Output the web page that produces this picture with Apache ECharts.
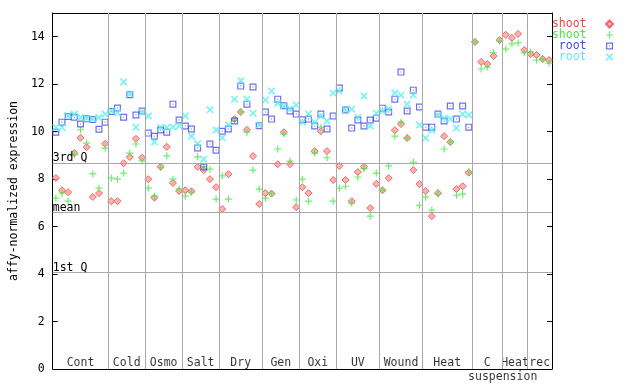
<!DOCTYPE html>
<html><head><meta charset="utf-8">
<script src="https://cdn.jsdelivr.net/npm/echarts@6/dist/echarts.min.js"></script>
<style>html,body{margin:0;padding:0;background:#fff}#c{width:640px;height:384px}</style>
</head><body><div id="c"></div>
<script>
// ---- data ----
const groupNames = ['Cont','Cold','Osmo','Salt','Dry','Gen','Oxi','UV','Wound','Heat','C','Heat','rec'];
const groupSizes = [9,6,6,6,7,6,6,7,7,8,5,4,4];
const subLabelText = 'suspension';   // second line under the "C" group
const subLabelGroup = 10;
const yTicks = [0,2,4,6,8,10,12,14];
const quartileNames = ['3rd Q','mean','1st Q'];
const quartileValues = [8.68, 6.61, 4.08];

const shootA = [8.05,7.53,7.45,9.10,9.74,9.35,7.25,7.41,9.49,7.07,7.07,8.67,8.93,9.70,8.90,8.00,7.22,8.52,9.36,7.84,7.50,7.53,7.49,8.52,8.38,8.00,7.66,6.74,8.21,10.53,10.83,10.08,8.97,6.95,7.41,7.39,8.63,9.98,8.63,6.82,7.66,7.41,9.18,10.02,9.18,7.96,8.56,7.96,7.07,8.30,8.52,6.78,7.80,7.53,8.04,10.06,10.32,9.73,8.38,7.79,7.50,6.44,7.41,9.81,9.56,7.58,7.70,8.27,13.78,12.94,12.85,13.19,13.86,14.08,13.95,14.12,13.44,13.27,13.23,13.06,13.02];
const shootB = [7.20,7.41,7.07,9.03,10.08,9.52,8.22,7.62,9.31,8.04,8.00,8.25,9.10,9.48,8.77,7.62,7.28,8.49,8.98,8.00,7.58,7.28,7.45,8.94,8.53,8.42,7.16,8.14,7.16,10.47,10.83,9.98,8.38,7.58,7.20,7.41,9.27,9.90,8.76,7.12,8.00,7.07,9.10,10.19,8.90,7.07,7.62,7.70,6.99,8.09,8.44,6.44,8.25,7.53,8.56,9.81,10.40,9.73,8.72,6.90,7.24,6.69,7.37,9.27,9.56,7.32,7.37,8.32,13.78,12.64,12.72,13.32,13.82,13.48,13.70,13.74,13.32,13.36,13.02,13.06,12.89];
const rootA = [9.98,10.40,10.64,10.61,10.32,10.54,10.51,10.10,10.40,10.85,11.00,10.61,11.56,10.70,10.87,9.94,9.81,10.07,9.98,11.16,10.49,10.24,10.11,9.31,8.51,9.48,9.22,10.02,10.11,10.45,11.92,11.16,11.88,10.25,10.83,10.53,11.37,11.09,10.87,10.74,10.50,10.53,10.24,10.74,10.11,10.66,11.84,10.91,10.15,10.49,10.24,10.49,10.57,10.99,10.83,11.37,12.51,10.87,11.75,11.04,10.19,10.19,10.74,10.45,11.08,10.53,11.08,10.19];
const rootB = [10.18,10.18,10.68,10.74,10.60,10.57,10.53,10.60,10.74,10.88,10.80,12.09,11.59,10.19,10.82,10.66,9.56,10.18,10.18,10.20,10.24,10.66,9.81,9.49,8.84,10.92,10.07,9.74,10.28,11.37,12.15,11.37,10.78,10.28,11.33,11.71,11.20,11.08,10.95,11.12,10.40,10.74,10.40,10.66,10.45,11.63,11.71,10.91,10.95,10.61,11.50,10.24,10.78,10.87,10.95,11.63,11.54,11.16,11.54,10.28,9.73,10.06,10.70,10.57,10.53,10.15,10.74,10.70];
const seriesNames = ['shoot','shoot','root','root'];

// ---- derived ----
const total = groupSizes.reduce((a,b)=>a+b,0);
const bounds = []; let acc = 0;
groupSizes.forEach(s=>{acc+=s; bounds.push(acc);});
const centers = groupSizes.map((s,i)=>bounds[i]-s/2);
const toPts = arr => arr.map((v,i)=>[i+0.5, v]);

const FONT = 'DejaVu Sans Mono';
const FS = 11.5;
const colors = ['#f04848','#48e848','#4848f0','#58f0f0'];
const sym = {
  diamond: 'path://M3.5,0L7,3.5L3.5,7L0,3.5Z',
  plus: 'path://M2.9,0H4.1V2.9H7V4.1H4.1V7H2.9V4.1H0V2.9H2.9Z',
  box: 'path://M0,0H7V7H0Z M1.2,1.2V5.8H5.8V1.2Z M3,3H4V4H3Z',
  cross: 'path://M0,0L1.2,0L3.5,2.3L5.8,0L7,0L7,1.2L4.7,3.5L7,5.8L7,7L5.8,7L3.5,4.7L1.2,7L0,7L0,5.8L2.3,3.5L0,1.2Z'
};
const uniqueNames = seriesNames.map((n,i)=> n + ' '.repeat(seriesNames.slice(0,i).filter(x=>x===n).length));

const chart = echarts.init(document.getElementById('c'), null, {renderer:'canvas'});
const option = {
  animation: false,
  backgroundColor: '#fff',
  textStyle: {fontFamily: FONT},
  grid: {left: 44, right: 88, top: 13, bottom: 15, show: false},
  legend: {
    orient: 'vertical', right: 26, top: 18, align: 'right',
    itemWidth: 36, itemHeight: 7, itemGap: -1, padding: 0,
    formatter: n => n.trim(),
    textStyle: {fontFamily: FONT, fontSize: FS, lineHeight: 11},
    data: uniqueNames.map((n,i)=>({name:n, textStyle:{color:colors[i]}}))
  },
  xAxis: [
    {type:'value', min:0, max: total, position:'bottom',
     axisLine:{show:true, onZero:false, lineStyle:{color:'#000', width:1}},
     axisTick:{show:false}, axisLabel:{show:false}, splitLine:{show:false}},
    {type:'value', min:0, max: total, position:'top',
     axisLine:{show:true, onZero:false, lineStyle:{color:'#000', width:1}},
     axisTick:{show:false}, axisLabel:{show:false}, splitLine:{show:false}}
  ],
  yAxis: [
    {type:'value', min:0, max:15, interval:2, position:'left',
     name:'affy-normalized expression', nameLocation:'middle', nameGap:27,
     nameTextStyle:{fontFamily:FONT, fontSize:FS, color:'#000'},
     axisLine:{show:true, onZero:false, lineStyle:{color:'#000', width:1}},
     axisTick:{show:true, inside:true, length:5, lineStyle:{color:'#000'}},
     axisLabel:{show:true, margin:8, fontFamily:FONT, fontSize:FS, color:'#000',
                formatter: v => yTicks.includes(v) ? String(v) : ''},
     splitLine:{show:false}},
    {type:'value', min:0, max:15, interval:2, position:'right',
     axisLine:{show:true, onZero:false, lineStyle:{color:'#000', width:1}},
     axisTick:{show:true, inside:true, length:5, lineStyle:{color:'#000'}},
     axisLabel:{show:false}, splitLine:{show:false}}
  ],
  series: [
    {type:'scatter', name:'guides', silent:true, data:[], z:1,
     markLine:{silent:true, symbol:'none', animation:false,
       lineStyle:{color:'#a8a8a8', width:1, type:'solid'},
       label:{show:false},
       data: bounds.slice(0,-1).map(b=>({xAxis:b}))}},
    {type:'scatter', name:'quart', silent:true, data:[], z:1,
     markLine:{silent:true, symbol:'none', animation:false,
       lineStyle:{color:'#a8a8a8', width:1, type:'solid'},
       label:{show:true, position:'insideStartTop', distance:[0,-1], formatter:'{b}',
              fontFamily:FONT, fontSize:FS, color:'#000', lineHeight:11},
       data: quartileValues.map((v,i)=>({yAxis:v, name:quartileNames[i]}))}},
    {type:'scatter', name: uniqueNames[0], data: toPts(shootA), symbol: sym.diamond, symbolSize:7,
     itemStyle:{color:'#ffa0a0', borderColor:colors[0], borderWidth:1}, z:3},
    {type:'scatter', name: uniqueNames[1], data: toPts(shootB), symbol: sym.plus, symbolSize:7,
     itemStyle:{color:colors[1]}, z:3},
    {type:'scatter', name: uniqueNames[2], data: toPts(rootA), symbol: sym.box, symbolSize:7,
     itemStyle:{color:colors[2]}, z:3},
    {type:'scatter', name: uniqueNames[3], data: toPts(rootB), symbol: sym.cross, symbolSize:7,
     itemStyle:{color:colors[3]}, z:3},
    {type:'scatter', name:'grouplabels', silent:true, symbolSize:0, z:4,
     data: groupNames.map((n,i)=>({value:[centers[i],0], name:n})),
     label:{show:true, position:'inside', offset:[0,-6], formatter:'{b}',
            fontFamily:FONT, fontSize:FS, color:'#000'}},
    {type:'scatter', name:'sublabel', silent:true, symbolSize:0, z:4,
     data: [{value:[bounds[subLabelGroup],0], name:subLabelText}],
     label:{show:true, position:'inside', offset:[0,8], formatter:'{b}',
            fontFamily:FONT, fontSize:FS, color:'#000'}}
  ]
};
chart.setOption(option);
</script>
</body></html>
